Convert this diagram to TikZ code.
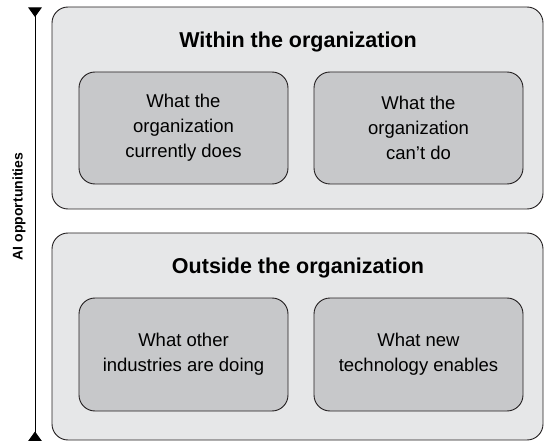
\documentclass[tikz,border=0pt]{standalone}
\usepackage{fontspec}
\setmainfont{Liberation Sans}
\usetikzlibrary{arrows.meta}
\definecolor{outerfill}{HTML}{E6E7E8}
\definecolor{innerfill}{HTML}{C7C8CA}
\definecolor{edge}{HTML}{231F20}
\tikzset{
  outerbox/.style={draw=edge, fill=outerfill, rounded corners=16pt, line width=0.9pt, minimum width=491pt},
  innerbox/.style={draw=edge, fill=innerfill, rounded corners=16pt, line width=0.9pt, minimum width=209pt, minimum height=112pt, align=center, font=\fontsize{18.5}{25}\selectfont},
  title/.style={font=\fontsize{21.5}{24}\selectfont\bfseries},
  axtip/.tip={Triangle[reversed,width=13.5pt,length=9.5pt]}
}
\begin{document}
\begin{tikzpicture}[x=1pt,y=-1pt]
	\useasboundingbox (0,0) rectangle (544,441);
	% top group
	\node[outerbox, minimum height=202pt] (within) at (297.5,108) {};
	\node[title] (withinlbl) at (298,42) {Within the organization};
	\node[innerbox] (does) at (183.5,128) {What the\\organization\\currently does};
	\node[innerbox] (cant) at (418.5,128) {What the\\organization\\can’t do};
	% bottom group
	\node[outerbox, minimum height=207pt] (outside) at (297.5,336.5) {};
	\node[title] (outsidelbl) at (298,268) {Outside the organization};
	\node[innerbox, minimum height=113pt] (other) at (183.5,354.5) {What other\\industries are doing};
	\node[innerbox, minimum height=113pt] (tech) at (418.5,354.5) {What new\\technology enables};
	% axis
	\coordinate (axtop) at (35,7.5);
	\coordinate (axbot) at (35,441);
	\draw[line width=1pt, axtip-axtip] (axtop) -- (axbot);
	\node[rotate=90, font=\fontsize{14}{17}\selectfont\bfseries] (ai) at (19,206.5) {AI opportunities};
\end{tikzpicture}
\end{document}
